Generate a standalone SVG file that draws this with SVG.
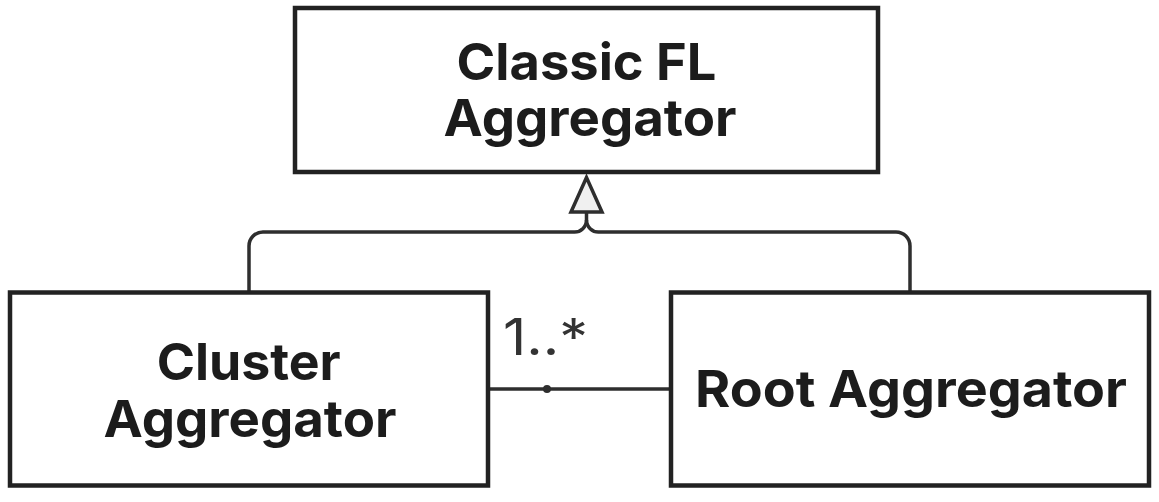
<svg xmlns="http://www.w3.org/2000/svg" width="1159" height="502" viewBox="0 0 1159 502">
  <style>
    .box { fill: #ffffff; stroke: #222222; stroke-width: 4.5; }
    .lbl { font-family: Inter, "Liberation Sans", sans-serif; font-weight: 700; font-size: 51px; fill: #1c1c1c; text-anchor: middle; }
    .edge { fill: none; stroke: #2e2e2e; stroke-width: 3.5; }
    .mult { font-family: Inter, "Liberation Sans", sans-serif; font-weight: 400; font-size: 51px; fill: #333333; }
  </style>
  <rect width="1159" height="502" fill="#ffffff"/>
  <g id="connectors">
    <path class="edge" d="M249,292.5 V246 A14,14 0 0 1 263,232 H574 A12,12 0 0 0 586.5,220 V212"/>
    <path class="edge" d="M910,292.5 V246 A14,14 0 0 0 896,232 H599 A12,12 0 0 1 586.5,220"/>
    <polygon points="586.5,177.5 571,212 602,212" fill="#f0f0f0" stroke="#2e2e2e" stroke-width="3.5" stroke-linejoin="miter"/>
    <line class="edge" x1="488" y1="389" x2="671" y2="389"/>
    <circle cx="547" cy="389" r="4" fill="#2e2e2e"/>
    <text class="mult" x="503" y="355" textLength="85" lengthAdjust="spacingAndGlyphs">1..*</text>
  </g>
  <g id="classic-fl-aggregator">
    <rect class="box" x="295" y="8" width="583" height="164"/>
    <text class="lbl" x="586.5" y="80" textLength="260" lengthAdjust="spacingAndGlyphs">Classic FL</text>
    <text class="lbl" x="590" y="136" textLength="293" lengthAdjust="spacingAndGlyphs">Aggregator</text>
  </g>
  <g id="cluster-aggregator">
    <rect class="box" x="10" y="292.5" width="478" height="193"/>
    <text class="lbl" x="248.7" y="380" textLength="184" lengthAdjust="spacingAndGlyphs">Cluster</text>
    <text class="lbl" x="250" y="437" textLength="293" lengthAdjust="spacingAndGlyphs">Aggregator</text>
  </g>
  <g id="root-aggregator">
    <rect class="box" x="671" y="292.5" width="478" height="193"/>
    <text class="lbl" x="911" y="407" textLength="432" lengthAdjust="spacingAndGlyphs">Root Aggregator</text>
  </g>
</svg>
